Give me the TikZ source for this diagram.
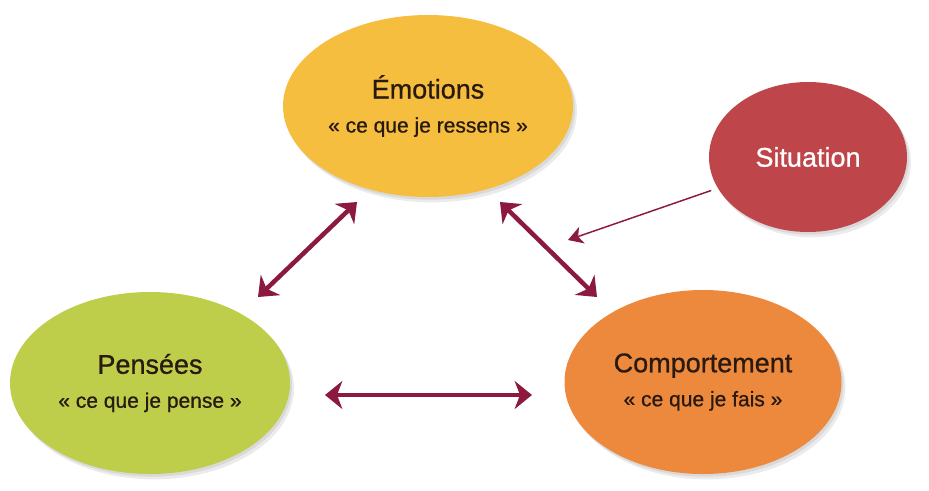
\documentclass[tikz,border=0pt]{standalone}
\usepackage{fontspec}
\setmainfont{Liberation Sans}[FakeBold=0.8]
\usetikzlibrary{arrows.meta,shapes.geometric,shadows}

\definecolor{emocol}{RGB}{246,190,62}
\definecolor{sitcol}{RGB}{190,70,74}
\definecolor{pencol}{RGB}{190,206,74}
\definecolor{comcol}{RGB}{237,137,60}
\definecolor{flecol}{RGB}{139,26,62}
\definecolor{txtcol}{RGB}{40,26,16}

\tikzset{every picture/.style={line width=0.75pt}}

\begin{document}
\begin{tikzpicture}[x=0.75pt,y=0.75pt,yscale=-1,xscale=1,
    bulle/.style={ellipse, inner sep=0pt, align=center, text=txtcol,
        font=\fontsize{15.75}{25.5}\selectfont,
        drop shadow={shadow xshift=3pt, shadow yshift=-4pt, opacity=0.08, fill=black},
        drop shadow={shadow xshift=1.5pt, shadow yshift=-2pt, opacity=0.08, fill=black}},
    lien/.style={draw=flecol, line width=3.4pt,
        {Stealth[length=13pt,width=21pt,inset=4pt]}-{Stealth[length=13pt,width=21pt,inset=4pt]}},
    lienfin/.style={draw=flecol, line width=1.1pt, -{Stealth[length=11pt,width=13pt,inset=3pt]}}]
    \useasboundingbox (0,0) rectangle (929,490);

    %Shape: Ellipse [Emotions]
    \node [bulle, fill=emocol, minimum width=217.5pt, minimum height=136.5pt] (emo) at (428,106)
        {{\fontsize{20.25}{25.5}\selectfont Émotions}\\« ce que je ressens »};
    %Shape: Ellipse [Situation]
    \node [bulle, fill=sitcol, text=white, minimum width=148.5pt, minimum height=112.5pt] (sit) at (808,157)
        {\fontsize{20.25}{25.5}\selectfont Situation};
    %Shape: Ellipse [Pensees]
    \node [bulle, fill=pencol, minimum width=210pt, minimum height=136.5pt] (pen) at (150,383)
        {{\fontsize{20.25}{25.5}\selectfont Pensées}\\« ce que je pense »};
    %Shape: Ellipse [Comportement]
    \node [bulle, fill=comcol, minimum width=207.75pt, minimum height=138pt] (com) at (703,382)
        {{\fontsize{20.25}{25.5}\selectfont Comportement}\\« ce que je fais »};

    % arrow ends
    \coordinate (ep1) at (357,202);
    \coordinate (ep2) at (258,297);
    \coordinate (ec1) at (500,202);
    \coordinate (ec2) at (597,297);
    \coordinate (pc1) at (325,395);
    \coordinate (pc2) at (532,395);
    \coordinate (sc) at (568,240);

    %Straight Lines
    \draw [lien] (ep1) -- (ep2);
    \draw [lien] (ec1) -- (ec2);
    \draw [lien] (pc1) -- (pc2);
    \draw [lienfin, shorten <=5pt] (sit) -- (sc);
\end{tikzpicture}
\end{document}
